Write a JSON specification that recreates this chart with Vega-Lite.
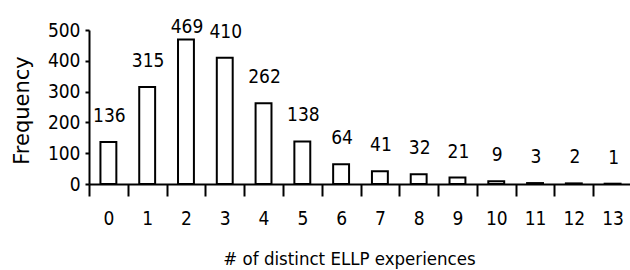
{
  "$schema": "https://vega.github.io/schema/vega-lite/v6.json",
  "width": 543,
  "height": 154,
  "autosize": {"type": "none"},
  "padding": {"left": 89, "top": 30, "right": 0, "bottom": 86},
  "background": "white",
  "config": {
    "view": {"stroke": null},
    "font": "DejaVu Sans Condensed",
    "axis": {
      "domainColor": "black",
      "domainWidth": 2,
      "tickColor": "black",
      "tickWidth": 2,
      "tickOpacity": 1,
      "ticks": true,
      "labelColor": "black",
      "titleColor": "black",
      "grid": false,
      "labelFont": "DejaVu Sans Condensed",
      "labelFontSize": 19,
      "labelOverlap": false,
      "titleFontWeight": "normal"
    },
    "axisY": {
      "values": [0, 100, 200, 300, 400, 500],
      "tickSize": 4,
      "labelPadding": 5,
      "titleFont": "DejaVu Sans",
      "titleFontSize": 21,
      "titleAngle": -90,
      "titleX": -67,
      "titleY": 80,
      "titleAlign": "center",
      "titleBaseline": "middle"
    },
    "axisX": {
      "labelAngle": 0,
      "labelPadding": 13,
      "labelBaseline": "top",
      "titleFont": "DejaVu Sans Condensed",
      "titleFontSize": 18.5,
      "titleX": 260,
      "titleY": 74,
      "titleAlign": "center",
      "titleBaseline": "middle"
    }
  },
  "data": {
    "values": [
      {"k": 0, "value": 136},
      {"k": 1, "value": 315},
      {"k": 2, "value": 469},
      {"k": 3, "value": 410},
      {"k": 4, "value": 262},
      {"k": 5, "value": 138},
      {"k": 6, "value": 64},
      {"k": 7, "value": 41},
      {"k": 8, "value": 32},
      {"k": 9, "value": 21},
      {"k": 10, "value": 9},
      {"k": 11, "value": 3},
      {"k": 12, "value": 2},
      {"k": 13, "value": 1}
    ]
  },
  "transform": [{"calculate": "min(datum.value, 425)", "as": "labelY"}],
  "encoding": {
    "x": {
      "field": "k", "type": "ordinal",
      "title": "# of distinct ELLP experiences",
      "scale": {"paddingInner": 0, "paddingOuter": 0},
      "axis": {"ticks": true, "tickBand": "extent", "tickSize": 12, "tickColor": "black", "tickWidth": 2}
    }
  },
  "layer": [
    {
      "mark": {"type": "bar", "fill": "white", "stroke": "black", "strokeWidth": 2, "width": {"band": 0.41}},
      "encoding": {
        "y": {
          "field": "value", "type": "quantitative", "title": "Frequency",
          "scale": {"domain": [0, 500], "nice": false}
        }
      }
    },
    {
      "mark": {"type": "text", "font": "DejaVu Sans Condensed", "fontSize": 19, "baseline": "middle", "dy": -26, "dx": 1, "color": "black"},
      "encoding": {
        "y": {"field": "labelY", "type": "quantitative", "title": "Frequency"},
        "text": {"field": "value", "type": "quantitative"}
      }
    }
  ]
}
